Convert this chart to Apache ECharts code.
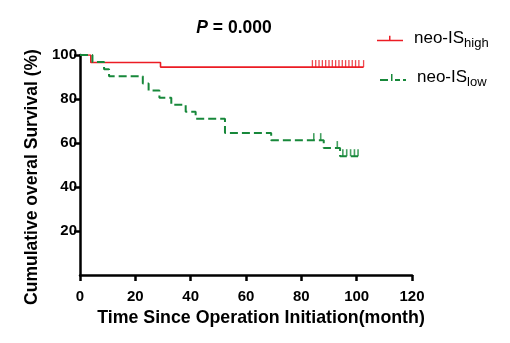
<!DOCTYPE html>
<html>
<head>
<meta charset="utf-8">
<script src="https://cdn.jsdelivr.net/npm/echarts@6/dist/echarts.min.js"></script>
<style>
  html, body { margin: 0; padding: 0; background: #fff; }
  #main { width: 510px; height: 343px; }
</style>
</head>
<body>
<div id="main"></div>
<script>
// Kaplan-Meier curves
const highTimes = [0, 3.9, 29.1, 102.5];
const highSurv = [100, 96.6, 94.5, 94.5];
const highCensor = [84, 85.2, 86.4, 87.6, 88.8, 90, 91.2, 92.4, 93.6, 94.8, 96, 97.2, 98.4, 99.6, 100.8, 102.5];

const lowTimes = [0, 4.5, 8.7, 10.5, 22.7, 24.8, 28.7, 33, 38.2, 41.8, 52.4, 69.1, 88.1, 94, 100.5];
const lowSurv = [100, 96.8, 93.5, 90.3, 87.1, 83.9, 80.6, 77.4, 74.2, 71.0, 64.5, 61.3, 57.7, 54.0, 54.0];
const lowCensor = [84.5, 87, 93, 95, 96.4, 97.8, 99.2, 100.5];

const xTicks = [0, 20, 40, 60, 80, 100, 120];
const yTicks = [20, 40, 60, 80, 100];

const RED = '#ec1c24';
const GREEN = '#17883a';
const FONT = 'Arial, Liberation Sans';

// survival value at time t (step function)
function survAt(times, surv, t) {
  let s = surv[0];
  for (let i = 0; i < times.length; i++) {
    if (times[i] <= t) s = surv[i];
  }
  return s;
}

// one legend per group so the second entry can sit a little to the right
function legendFor(name, left, top, icon) {
  return {
    left: left,
    top: top,
    itemWidth: 26,
    itemHeight: 8,
    data: [{ name: name, icon: icon }],
    formatter: n => 'neo-IS{s|' + n + '}',
    textStyle: {
      fontFamily: FONT,
      fontSize: 17,
      color: '#000',
      padding: [0, 0, 0, 6],
      rich: {
        s: { fontFamily: FONT, fontSize: 13, color: '#000', padding: [10, 0, 0, 0] }
      }
    }
  };
}

const chart = echarts.init(document.getElementById('main'));

const option = {
  animation: false,
  title: {
    text: '{i|P} = 0.000',
    left: 229,
    top: 14,
    textAlign: 'center',
    textStyle: {
      fontFamily: FONT,
      fontSize: 17.5,
      fontWeight: 'bold',
      color: '#000',
      rich: {
        i: { fontFamily: FONT, fontSize: 17.5, fontWeight: 'bold', fontStyle: 'italic', color: '#000' }
      }
    }
  },
  legend: [
    legendFor('high', 372, 25, 'path://M0,4h26v1.5h-26z M12,0h1.5v4h-1.5z'),
    legendFor('low', 375, 64, 'path://M0,5h8v2h-8z M11,0h1.5v7h-1.5z M15,5h5v2h-5z M23,5h3v2h-3z')
  ],
  grid: { left: 80, right: 98, top: 55, bottom: 68 },
  xAxis: {
    type: 'value',
    min: 0,
    max: 120,
    interval: 20,
    name: 'Time Since Operation Initiation(month)',
    nameLocation: 'middle',
    nameGap: 29,
    nameTextStyle: { fontFamily: FONT, fontSize: 17.8, fontWeight: 'bold', color: '#000', padding: [0, 0, 0, 30] },
    axisLine: { onZero: false, lineStyle: { color: '#000', width: 2.5 } },
    axisTick: { length: 6, lineStyle: { color: '#000', width: 2.5 } },
    axisLabel: {
      margin: 14,
      fontFamily: FONT,
      fontSize: 15,
      fontWeight: 'bold',
      color: '#000',
      formatter: v => xTicks.includes(v) ? String(v) : ''
    },
    splitLine: { show: false }
  },
  yAxis: {
    type: 'value',
    min: 0,
    max: 100,
    interval: 20,
    name: 'Cumulative overal Survival (%)',
    nameLocation: 'middle',
    nameGap: 37,
    nameTextStyle: { fontFamily: FONT, fontSize: 17.5, fontWeight: 'bold', color: '#000', padding: [0, 24, 0, 0] },
    axisLine: { show: true, onZero: false, lineStyle: { color: '#000', width: 2.5 } },
    axisTick: {
      show: true,
      length: 6,
      lineStyle: { color: '#000', width: 2.5 },
      customValues: yTicks
    },
    axisLabel: {
      margin: 3,
      fontFamily: FONT,
      fontSize: 15,
      fontWeight: 'bold',
      color: '#000',
      customValues: yTicks,
      formatter: v => yTicks.includes(v) ? String(v) : ''
    },
    splitLine: { show: false }
  },
  series: [
    {
      name: 'high',
      type: 'line',
      step: 'end',
      symbol: 'none',
      data: highTimes.map((t, i) => [t, highSurv[i]]),
      lineStyle: { color: RED, width: 1.6 },
      itemStyle: { color: RED },
      z: 2
    },
    {
      name: 'high',
      type: 'scatter',
      symbol: 'rect',
      symbolSize: [1.3, 7],
      symbolOffset: [0, -3.5],
      data: highCensor.map(t => [t, survAt(highTimes, highSurv, t)]),
      itemStyle: { color: RED },
      z: 2
    },
    {
      name: 'low',
      type: 'line',
      step: 'end',
      symbol: 'none',
      data: lowTimes.map((t, i) => [t, lowSurv[i]]),
      lineStyle: { color: GREEN, width: 2, type: [8, 4] },
      itemStyle: { color: GREEN },
      z: 3
    },
    {
      name: 'low',
      type: 'scatter',
      symbol: 'rect',
      symbolSize: [1.6, 7],
      symbolOffset: [0, -3.5],
      data: lowCensor.map(t => [t, survAt(lowTimes, lowSurv, t)]),
      itemStyle: { color: GREEN },
      z: 3
    }
  ]
};

option && chart.setOption(option);
</script>
</body>
</html>
